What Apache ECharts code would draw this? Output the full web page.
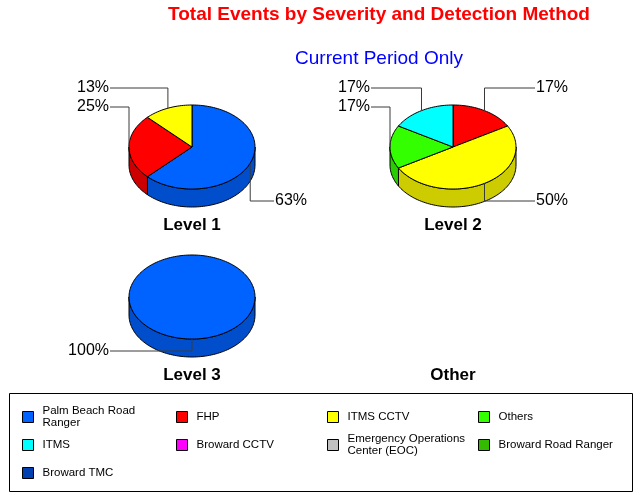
<!DOCTYPE html>
<html>
<head>
<meta charset="utf-8">
<script src="https://cdn.jsdelivr.net/npm/echarts@6/dist/echarts.min.js"></script>
<style>
  html, body { margin: 0; padding: 0; background: #fff; }
  #chart { width: 641px; height: 495px; }
</style>
</head>
<body>
<div id="chart"></div>
<script>
// Severity levels (one pie each) and detection methods (slices)
const levels = ['Level 1', 'Level 2', 'Level 3', 'Other'];
const methods = ['Palm Beach Road Ranger', 'FHP', 'ITMS CCTV', 'Others', 'ITMS',
  'Broward CCTV', 'Emergency Operations Center (EOC)', 'Broward Road Ranger', 'Broward TMC'];

// Event counts per method, ordered as levels
const palmBeachRoadRanger = [5, 0, 1, 0];
const fhp = [2, 1, 0, 0];
const itmsCctv = [1, 3, 0, 0];
const othersMethod = [0, 1, 0, 0];
const itms = [0, 1, 0, 0];
const browardCctv = [0, 0, 0, 0];
const eoc = [0, 0, 0, 0];
const browardRoadRanger = [0, 0, 0, 0];
const browardTmc = [0, 0, 0, 0];

const counts = [palmBeachRoadRanger, fhp, itmsCctv, othersMethod, itms,
  browardCctv, eoc, browardRoadRanger, browardTmc];

const topColors = ['#0062FF', '#FF0000', '#FFFF00', '#33FF00', '#00FFFF',
  '#FF00FF', '#C0C0C0', '#33BB00', '#0040B0'];

// legend labels split over two lines where needed
const legendText = {
  'Palm Beach Road Ranger': 'Palm Beach Road\nRanger',
  'Emergency Operations Center (EOC)': 'Emergency Operations\nCenter (EOC)'
};

// pie layout
const centers = [[192, 147], [453, 147], [192, 297], [453, 297]];
const RX = 63, RY = 42, DEPTH = 18;
const FONT = '"Liberation Sans", Arial, sans-serif';

function darken(hex, f) {
  const n = parseInt(hex.slice(1), 16);
  const r = Math.round(((n >> 16) & 255) * f);
  const g = Math.round(((n >> 8) & 255) * f);
  const b = Math.round((n & 255) * f);
  return 'rgb(' + r + ',' + g + ',' + b + ')';
}

// angle in degrees, clockwise from 12 o'clock
function rim(c, deg, dy) {
  const a = deg * Math.PI / 180;
  return [c[0] + RX * Math.sin(a), c[1] - RY * Math.cos(a) + (dy || 0)];
}
function arcPoints(c, a0, a1, dy) {
  const pts = [];
  const n = Math.max(2, Math.ceil((a1 - a0) / 2));
  for (let i = 0; i <= n; i++) pts.push(rim(c, a0 + (a1 - a0) * i / n, dy));
  return pts;
}

// slice angles and label placement for one level
function levelLayout(lv) {
  const total = counts.reduce((s, arr) => s + arr[lv], 0);
  const out = [];
  let acc = 0;
  counts.forEach((arr, k) => {
    const v = arr[lv];
    if (!v) { out[k] = null; return; }
    const a0 = acc / total * 360;
    acc += v;
    const a1 = acc / total * 360;
    const mid = (a0 + a1) / 2;
    const left = mid >= 180;
    const upper = Math.cos(mid * Math.PI / 180) >= -1e-9;
    out[k] = { a0, a1, mid, left, upper, pct: Math.round(v / total * 100) + '%', row: 0 };
  });
  const items = out.filter(Boolean);
  const leftUp = items.filter(d => d.left && d.upper).sort((p, q) => q.mid - p.mid);
  const rightUp = items.filter(d => !d.left && d.upper).sort((p, q) => p.mid - q.mid);
  leftUp.forEach((d, i) => d.row = i);
  rightUp.forEach((d, i) => d.row = i);
  items.filter(d => !d.upper).forEach((d, i) => d.row = i);
  return out;
}
const layouts = levels.map((_, lv) => levelLayout(lv));

function makeRenderer(k) {
  return function (params, api) {
    const lv = api.value(0);
    const d = layouts[lv][k];
    if (!d) return { type: 'group', children: [] };
    const c = centers[lv];
    const children = [];
    const full = d.a1 - d.a0 >= 359.99;
    // side wall for the front half
    const s = Math.max(d.a0, 90), e = Math.min(d.a1, 270);
    if (s < e) {
      const pts = arcPoints(c, s, e, 0).concat(arcPoints(c, s, e, DEPTH).reverse());
      children.push({ type: 'polygon', z2: 1, shape: { points: pts },
        style: { fill: darken(topColors[k], 0.8), stroke: '#000', lineWidth: 1 } });
    }
    // top face
    const topPts = full ? arcPoints(c, 0, 360, 0) : [c.slice()].concat(arcPoints(c, d.a0, d.a1, 0));
    children.push({ type: 'polygon', z2: 2, shape: { points: topPts },
      style: { fill: topColors[k], stroke: '#000', lineWidth: 1 } });
    // leader line and percentage
    const anchor = rim(c, d.mid, 0);
    const ly = d.upper ? c[1] - 59 + d.row * 19 : c[1] + 54 + d.row * 19;
    const lx = d.left ? c[0] - 82 : c[0] + 82;
    children.push({ type: 'polyline', z2: 3,
      shape: { points: [anchor, [anchor[0], ly], [lx, ly]] },
      style: { stroke: '#3a3a3a', lineWidth: 1, fill: null } });
    children.push({ type: 'text', z2: 3, x: d.left ? lx - 1 : lx + 1, y: ly,
      style: { text: d.pct, fill: '#000', font: '16px ' + FONT,
        align: d.left ? 'right' : 'left', verticalAlign: 'middle' } });
    return { type: 'group', children };
  };
}

const series = methods.map((name, k) => ({
  type: 'custom',
  name: name,
  coordinateSystem: 'none',
  silent: true,
  itemStyle: { color: topColors[k] },
  data: levels.map((_, lv) => [lv, counts[k][lv]]),
  renderItem: makeRenderer(k)
}));

// legend grid: column x of the swatch, row centre y
const legendCols = [22, 176, 327, 478];
const legendRows = [417, 445, 473];
const legends = methods.map((name, k) => {
  const col = k % 4, row = Math.floor(k / 4);
  const lines = legendText[name] ? 2 : 1;
  const h = Math.max(11, lines * 12);
  return {
    data: [name],
    left: legendCols[col],
    top: legendRows[row] - h / 2,
    padding: 0,
    selectedMode: false,
    icon: 'rect',
    itemWidth: 11,
    itemHeight: 11,
    itemStyle: { borderColor: '#000', borderWidth: 1 },
    formatter: n => legendText[n] || n,
    textStyle: { fontFamily: FONT, fontSize: 11.5, color: '#000', lineHeight: 12, padding: [0, 0, 0, 4] }
  };
});

const chart = echarts.init(document.getElementById('chart'), null, { renderer: 'canvas' });
chart.setOption({
  animation: false,
  backgroundColor: '#fff',
  legend: legends,
  graphic: [
    { type: 'text', x: 379, y: 15, style: { text: 'Total Events by Severity and Detection Method',
      fill: '#FF0000', font: 'bold 19px ' + FONT, align: 'center', verticalAlign: 'middle' } },
    { type: 'text', x: 379, y: 59, style: { text: 'Current Period Only',
      fill: '#0000FF', font: '19px ' + FONT, align: 'center', verticalAlign: 'middle' } },
    ...levels.map((name, lv) => ({ type: 'text', x: centers[lv][0], y: centers[lv][1] + 78,
      style: { text: name, fill: '#000', font: 'bold 17px ' + FONT, align: 'center', verticalAlign: 'middle' } })),
    { type: 'rect', shape: { x: 9.5, y: 393.5, width: 623, height: 98 },
      style: { fill: null, stroke: '#000', lineWidth: 1 }, z: -1 }
  ],
  series: series
});
</script>
</body>
</html>
